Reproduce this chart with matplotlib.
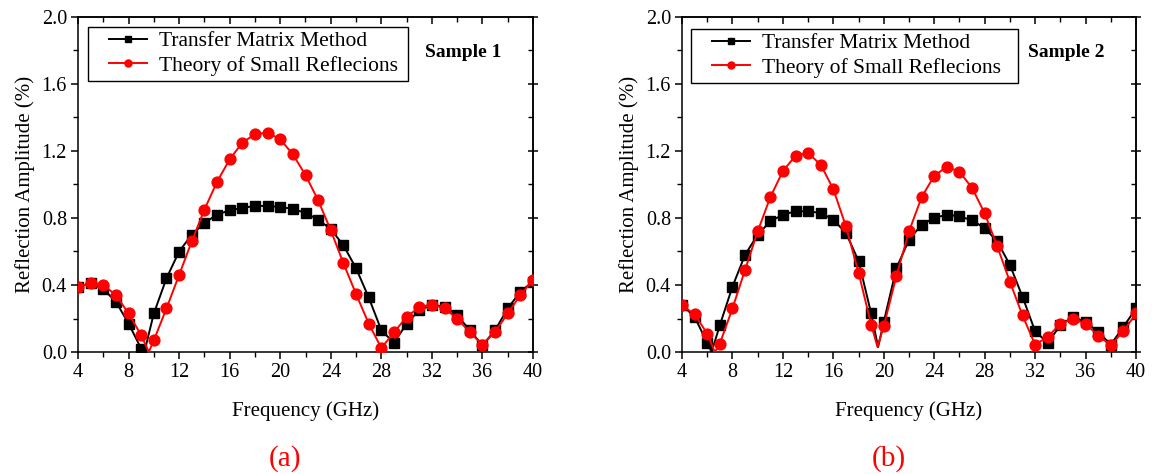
import matplotlib
matplotlib.use("Agg")
import matplotlib.pyplot as plt
from matplotlib.ticker import MultipleLocator
from matplotlib.patches import Rectangle

plt.rcParams['font.family'] = ['Liberation Serif', 'DejaVu Serif']

freq = list(range(4, 41))

# Sample 1
s1_tmm = [0.39, 0.41, 0.376, 0.30, 0.17, 0.02, 0.23, 0.44, 0.60, 0.70, 0.77, 0.82,
          0.846, 0.86, 0.872, 0.872, 0.866, 0.854, 0.83, 0.79, 0.734, 0.637, 0.50,
          0.326, 0.13, 0.054, 0.17, 0.25, 0.28, 0.27, 0.22, 0.13, 0.04, 0.13, 0.26,
          0.36, 0.42]
s1_tsr = [0.39, 0.41, 0.40, 0.34, 0.23, 0.10, 0.07, 0.26, 0.46, 0.66, 0.85, 1.016,
          1.15, 1.25, 1.30, 1.31, 1.27, 1.18, 1.056, 0.906, 0.726, 0.53, 0.346,
          0.17, 0.024, 0.117, 0.21, 0.267, 0.283, 0.26, 0.20, 0.117, 0.044, 0.12,
          0.23, 0.34, 0.43]
s1_tmm_dips_x = [9.25]
s1_tmm_dips_y = [0.0]
s1_tsr_dips_x = [9.6]
s1_tsr_dips_y = [0.0]

# Sample 2
s2_tmm = [0.28, 0.21, 0.054, 0.16, 0.39, 0.58, 0.70, 0.78, 0.82, 0.84, 0.84, 0.83,
          0.79, 0.71, 0.544, 0.23, 0.18, 0.50, 0.67, 0.76, 0.80, 0.82, 0.81, 0.786,
          0.74, 0.66, 0.52, 0.33, 0.124, 0.054, 0.16, 0.21, 0.18, 0.12, 0.044,
          0.15, 0.26]
s2_tsr = [0.28, 0.224, 0.11, 0.05, 0.26, 0.49, 0.72, 0.924, 1.08, 1.172, 1.188,
          1.118, 0.972, 0.75, 0.474, 0.164, 0.154, 0.454, 0.72, 0.924, 1.052, 1.106,
          1.076, 0.98, 0.828, 0.63, 0.42, 0.218, 0.044, 0.09, 0.168, 0.198, 0.168,
          0.098, 0.04, 0.124, 0.23]
s2_tmm_dips_x = [6.35, 19.55]
s2_tmm_dips_y = [0.0, 0.03]
s2_tsr_dips_x = [6.6, 19.5]
s2_tsr_dips_y = [0.0, 0.03]

legend_labels = ["Transfer Matrix Method", "Theory of Small Reflecions"]
sample_titles = ["Sample 1", "Sample 2"]
panel_labels = ["(a)", "(b)"]

W, H = 1152, 474
fig = plt.figure(figsize=(W / 100, H / 100), dpi=100)

axes_px = [(78, 533), (682, 1136)]
legend_box_px = [(88, 408, 27, 81), (691, 1018, 29, 83)]
top_px, bot_px = 17, 352


def merged(xs, ys, dx, dy):
    pts = sorted(list(zip(xs, ys)) + list(zip(dx, dy)))
    lx = [p[0] for p in pts]
    ly = [p[1] for p in pts]
    marks = [i for i, p in enumerate(pts) if float(p[0]).is_integer()]
    return lx, ly, marks


datasets = [
    (s1_tmm, s1_tsr, s1_tmm_dips_x, s1_tmm_dips_y, s1_tsr_dips_x, s1_tsr_dips_y),
    (s2_tmm, s2_tsr, s2_tmm_dips_x, s2_tmm_dips_y, s2_tsr_dips_x, s2_tsr_dips_y),
]

for k, (l_px, r_px) in enumerate(axes_px):
    aw, ah = r_px - l_px, bot_px - top_px
    ax = fig.add_axes([l_px / W, (H - bot_px) / H, aw / W, ah / H])
    tmm, tsr, tdx, tdy, rdx, rdy = datasets[k]
    lx, ly, mk = merged(freq, tmm, tdx, tdy)
    ax.plot(lx, ly, color='black', lw=1.4, marker='s', ms=6.8, markevery=mk,
            label=legend_labels[0], zorder=3)
    lx, ly, mk = merged(freq, tsr, rdx, rdy)
    ax.plot(lx, ly, color='red', lw=1.4, marker='o', ms=7.8, markevery=mk,
            label=legend_labels[1], zorder=4)
    ax.set_xlim(4, 40)
    ax.set_ylim(0, 2.0)
    ax.xaxis.set_major_locator(MultipleLocator(4))
    ax.xaxis.set_minor_locator(MultipleLocator(2))
    ax.yaxis.set_major_locator(MultipleLocator(0.4))
    ax.yaxis.set_minor_locator(MultipleLocator(0.2))
    ax.yaxis.set_major_formatter(plt.FormatStrFormatter('%.1f'))
    ax.tick_params(which='major', direction='out', length=5, width=1.1,
                   labelsize=14.5, pad=3)
    ax.tick_params(which='minor', direction='out', length=3.5, width=1.0)
    # top / right ticks
    sec_x = ax.secondary_xaxis('top')
    sec_x.xaxis.set_major_locator(MultipleLocator(4))
    sec_x.xaxis.set_minor_locator(MultipleLocator(2))
    sec_x.tick_params(which='major', direction='in', length=5, width=1.1, labeltop=False)
    sec_x.tick_params(which='minor', direction='in', length=3.5, width=1.0)
    sec_y = ax.secondary_yaxis('right')
    sec_y.yaxis.set_major_locator(MultipleLocator(0.4))
    sec_y.yaxis.set_minor_locator(MultipleLocator(0.2))
    sec_y.tick_params(which='major', direction='inout', length=7, width=1.1, labelright=False)
    sec_y.tick_params(which='minor', direction='in', length=3.5, width=1.0)
    for s in ax.spines.values():
        s.set_linewidth(1.1)
    sec_x.spines['top'].set_linewidth(1.1)
    sec_y.spines['right'].set_linewidth(1.1)
    ax.set_xlabel("Frequency (GHz)", fontsize=15, labelpad=14)
    ax.set_ylabel("Reflection Amplitude (%)", fontsize=15, labelpad=5)

    # legend box drawn separately, legend entries without frame
    bl, br, bt, bb = legend_box_px[k]
    ax.add_patch(Rectangle(((bl - l_px) / aw, (bot_px - bb) / ah),
                           (br - bl) / aw, (bb - bt) / ah, transform=ax.transAxes,
                           fill=True, facecolor='white', edgecolor='black',
                           lw=1.0, zorder=5))
    leg = ax.legend(loc='upper left',
                    bbox_to_anchor=((bl - l_px + 21) / aw, (bot_px - bt - 4) / ah),
                    fontsize=15.5, frameon=False,
                    borderpad=0.0, labelspacing=0.22, handlelength=1.75,
                    handletextpad=0.55, borderaxespad=0.0, markerscale=0.65)
    leg.set_zorder(6)
    ax.text(0.93, 0.895, sample_titles[k], transform=ax.transAxes, ha='right',
            va='center', fontsize=14, fontweight='bold')
    fig.text(((l_px + r_px) / 2 - 20) / W, 1 - 459 / H, panel_labels[k],
             color='red', fontsize=21, ha='center', va='center')

fig.savefig("out.png", dpi=100)
